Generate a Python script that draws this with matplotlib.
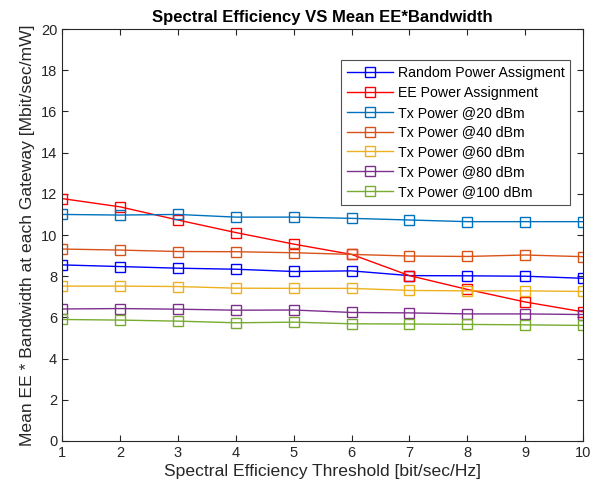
import numpy as np
import matplotlib.pyplot as plt

plt.rcParams['font.family'] = ['Liberation Sans', 'DejaVu Sans']

# spectral efficiency thresholds
se_threshold = [1, 2, 3, 4, 5, 6, 7, 8, 9, 10]

# mean EE * bandwidth per gateway
random_power = [8.55, 8.47, 8.39, 8.34, 8.23, 8.26, 8.03, 8.02, 8.00, 7.90]
ee_power = [11.77, 11.37, 10.73, 10.12, 9.56, 9.06, 8.03, 7.36, 6.75, 6.27]
tx_20 = [11.00, 10.97, 11.00, 10.87, 10.87, 10.81, 10.73, 10.65, 10.65, 10.65]
tx_40 = [9.32, 9.27, 9.20, 9.19, 9.14, 9.06, 8.98, 8.96, 9.03, 8.95]
tx_60 = [7.52, 7.52, 7.50, 7.42, 7.41, 7.41, 7.31, 7.29, 7.29, 7.26]
tx_80 = [6.41, 6.43, 6.40, 6.35, 6.36, 6.24, 6.22, 6.17, 6.17, 6.14]
tx_100 = [5.90, 5.87, 5.82, 5.74, 5.77, 5.69, 5.68, 5.66, 5.64, 5.61]

series = [
    (random_power, 'Random Power Assigment', '#0000ff'),
    (ee_power, 'EE Power Assignment', '#ff0000'),
    (tx_20, 'Tx Power @20 dBm', '#0072bd'),
    (tx_40, 'Tx Power @40 dBm', '#d95319'),
    (tx_60, 'Tx Power @60 dBm', '#edb120'),
    (tx_80, 'Tx Power @80 dBm', '#7e2f8e'),
    (tx_100, 'Tx Power @100 dBm', '#77ac30'),
]

fig = plt.figure(figsize=(6.03, 4.93), dpi=100)
ax = fig.add_axes([0.103, 0.1055, 0.864, 0.8355])

for vals, name, col in series:
    ax.plot(se_threshold, vals, '-s', color=col, lw=1, ms=6.5,
            mfc='none', mec=col, mew=1, label=name)

ax.set_xlim(1, 10)
ax.set_ylim(0, 20)
ax.set_xticks(range(1, 11))
ax.set_yticks(range(0, 21, 2))
ax.tick_params(direction='in', top=True, right=True, labelsize=10.5,
               colors='#262626', length=4)
for sp in ax.spines.values():
    sp.set_color('#262626')
    sp.set_linewidth(0.8)

ax.set_title('Spectral Efficiency VS Mean EE*Bandwidth', fontsize=12,
             fontweight='bold', pad=5)
ax.set_xlabel('Spectral Efficiency Threshold [bit/sec/Hz]', fontsize=12.6,
              color='#262626', labelpad=3)
ax.set_ylabel('Mean EE * Bandwidth at each Gateway [Mbit/sec/mW]',
              fontsize=12.6, color='#262626', labelpad=4)

leg = ax.legend(loc='upper right', bbox_to_anchor=(0.975, 0.925),
                fontsize=10.2, fancybox=False, edgecolor='#262626',
                handlelength=3.3, handletextpad=0.3, labelspacing=0.42,
                borderpad=0.4, borderaxespad=0)
leg.get_frame().set_linewidth(0.8)

fig.savefig('out.png', dpi=100)
